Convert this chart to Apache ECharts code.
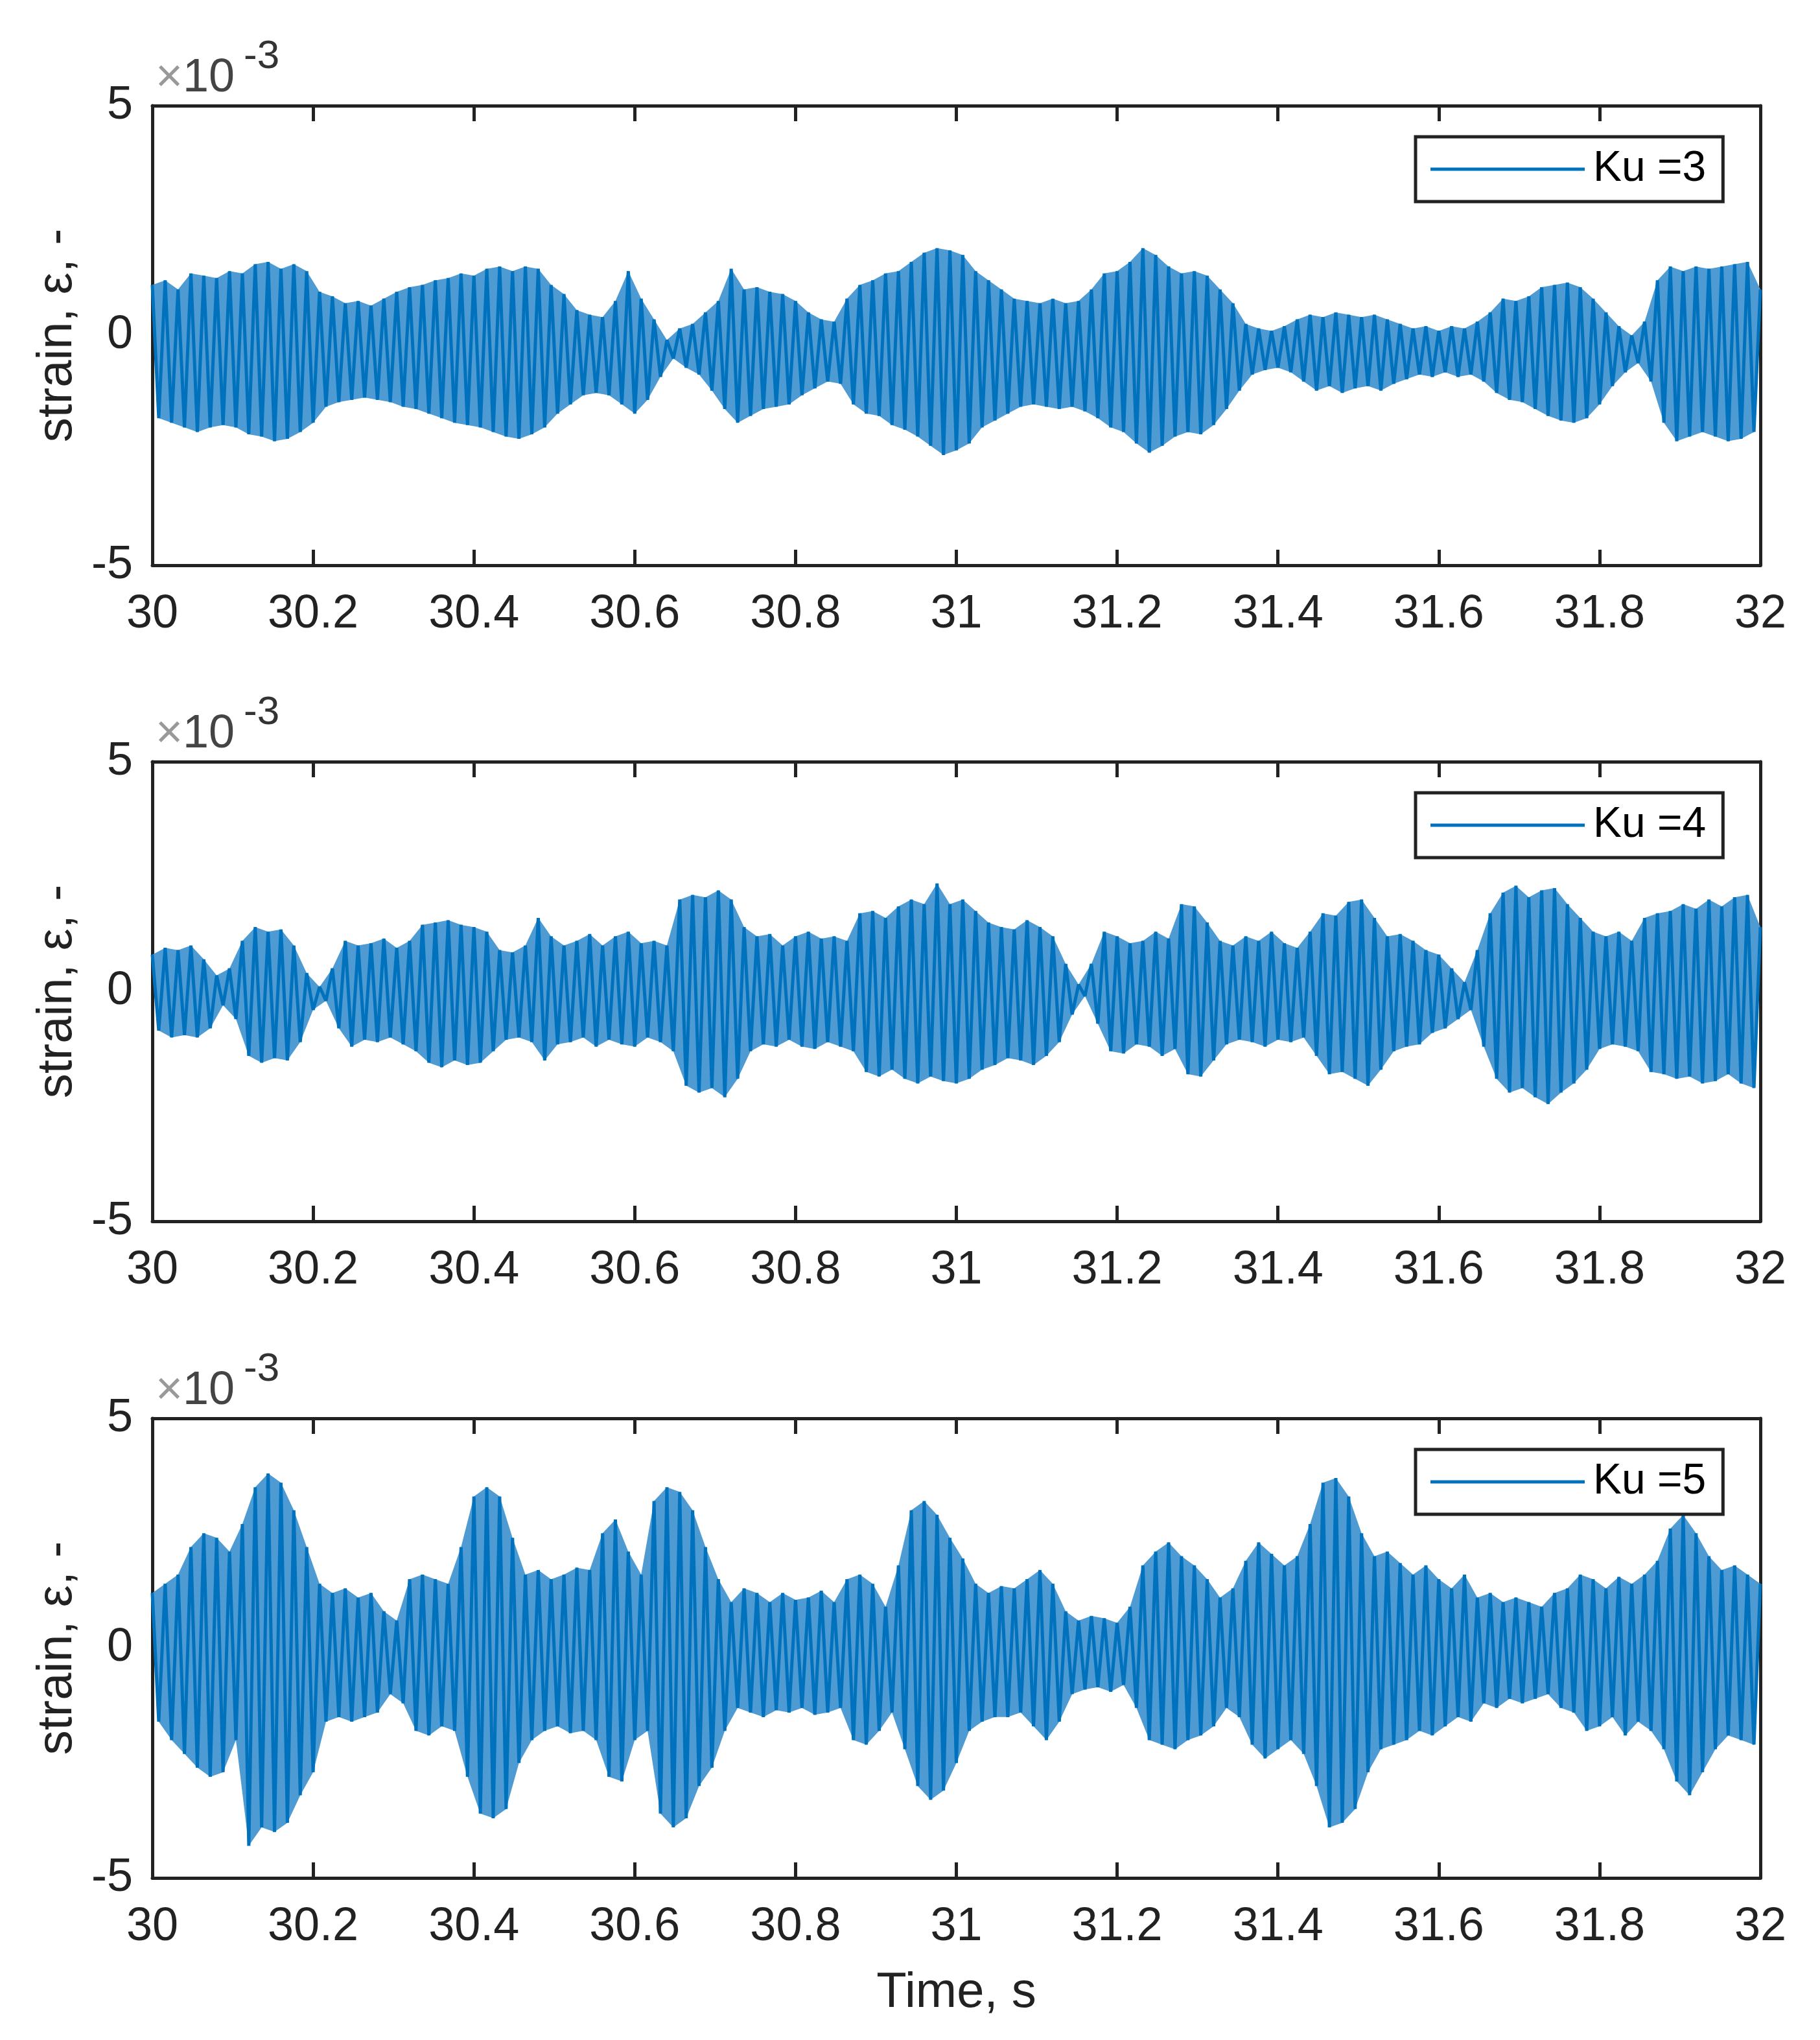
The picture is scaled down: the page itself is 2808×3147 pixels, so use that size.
<!DOCTYPE html>
<html>
<head>
<meta charset="utf-8">
<script src="https://cdn.jsdelivr.net/npm/echarts@6/dist/echarts.min.js"></script>
<style>
  html, body { margin: 0; padding: 0; background: #fff; }
  #chart { width: 2808px; height: 3147px; }
</style>
</head>
<body>
<div id="chart"></div>
<script>
// strain signal, units of 1e-3; one peak (hi) and one trough (lo) per cycle
const timeStart = 30;
const cycle = 0.016;
const xTicks = [30, 30.2, 30.4, 30.6, 30.8, 31, 31.2, 31.4, 31.6, 31.8, 32];
const yTicks = [-5, 0, 5];
const seriesNames = ["Ku =3", "Ku =4", "Ku =5"];

const ku3Hi = [1.1, 1.2, 1.0, 1.35, 1.3, 1.25, 1.4, 1.35, 1.55, 1.6, 1.45, 1.55, 1.4,
  0.95, 0.85, 0.7, 0.75, 0.65, 0.8, 0.95, 1.05, 1.1, 1.2, 1.25, 1.35, 1.3,
  1.45, 1.5, 1.4, 1.5, 1.45, 1.1, 0.9, 0.55, 0.45, 0.4, 0.75, 1.4, 0.8,
  0.35, -0.1, 0.15, 0.25, 0.5, 0.75, 1.45, 1.0, 1.05, 0.95, 0.9, 0.75, 0.5,
  0.35, 0.3, 0.8, 1.1, 1.2, 1.35, 1.4, 1.6, 1.8, 1.9, 1.85, 1.75, 1.4,
  1.2, 1.0, 0.8, 0.75, 0.7, 0.8, 0.7, 0.75, 1.0, 1.35, 1.4, 1.6, 1.9,
  1.75, 1.5, 1.35, 1.4, 1.3, 1.0, 0.7, 0.25, 0.15, 0.1, 0.2, 0.35, 0.45,
  0.4, 0.5, 0.45, 0.4, 0.45, 0.35, 0.25, 0.15, 0.2, 0.1, 0.2, 0.15, 0.3,
  0.5, 0.8, 0.75, 0.85, 1.05, 1.1, 1.15, 1.05, 0.8, 0.5, 0.2, 0.0, 0.3,
  1.2, 1.5, 1.4, 1.5, 1.45, 1.5, 1.55, 1.6, 1.0];
const ku3Lo = [-1.8, -1.9, -2.0, -2.1, -2.0, -1.95, -2.0, -2.15, -2.2, -2.3, -2.25, -2.1, -1.9,
  -1.55, -1.45, -1.4, -1.35, -1.4, -1.45, -1.55, -1.6, -1.7, -1.8, -1.9, -1.95,
  -2.0, -2.1, -2.2, -2.25, -2.15, -2.0, -1.7, -1.5, -1.3, -1.25, -1.3, -1.5, -1.7,
  -1.4, -0.9, -0.5, -0.7, -0.85, -1.2, -1.6, -1.9, -1.75, -1.6, -1.55, -1.5, -1.3,
  -1.15, -1.0, -1.05, -1.5, -1.7, -1.75, -1.95, -2.05, -2.2, -2.4, -2.6, -2.5, -2.35,
  -2.0, -1.85, -1.7, -1.55, -1.5, -1.55, -1.6, -1.55, -1.65, -1.8, -2.0, -2.1, -2.35,
  -2.55, -2.4, -2.2, -2.1, -2.15, -1.95, -1.6, -1.2, -0.85, -0.75, -0.7, -0.8, -1.0,
  -1.2, -1.1, -1.25, -1.15, -1.1, -1.2, -1.05, -0.95, -0.85, -0.9, -0.8, -0.9, -0.85,
  -1.0, -1.25, -1.4, -1.45, -1.6, -1.75, -1.85, -1.9, -1.8, -1.5, -1.1, -0.8, -0.6,
  -1.0, -1.9, -2.3, -2.2, -2.1, -2.2, -2.3, -2.25, -2.1];

const ku4Hi = [0.8, 0.95, 0.9, 1.0, 0.7, 0.35, 0.5, 1.1, 1.4, 1.3, 1.35, 1.0, 0.4,
  0.1, 0.5, 1.1, 1.0, 1.05, 1.15, 0.95, 1.1, 1.45, 1.5, 1.55, 1.45, 1.4,
  1.3, 0.9, 0.85, 1.0, 1.6, 1.2, 1.0, 1.1, 1.25, 1.0, 1.2, 1.3, 1.05,
  1.1, 1.0, 2.0, 2.1, 2.05, 2.2, 2.0, 1.4, 1.2, 1.25, 1.0, 1.2, 1.3,
  1.15, 1.2, 1.1, 1.7, 1.75, 1.6, 1.85, 2.0, 1.9, 2.35, 1.9, 2.0, 1.75,
  1.5, 1.4, 1.35, 1.55, 1.4, 1.2, 0.6, 0.15, 0.6, 1.3, 1.2, 1.05, 1.1,
  1.3, 1.15, 1.9, 1.85, 1.5, 1.1, 1.0, 1.2, 1.1, 1.3, 1.05, 0.95, 1.3,
  1.7, 1.65, 1.95, 2.0, 1.6, 1.2, 1.25, 1.1, 0.9, 0.8, 0.5, 0.2, 0.9,
  1.7, 2.15, 2.3, 2.05, 2.2, 2.25, 1.9, 1.6, 1.3, 1.2, 1.3, 1.1, 1.6,
  1.7, 1.75, 1.9, 1.8, 2.0, 1.85, 2.05, 2.1, 1.4];
const ku4Lo = [-0.85, -1.0, -0.95, -1.0, -0.8, -0.3, -0.6, -1.4, -1.55, -1.45, -1.5, -1.1, -0.4,
  -0.2, -0.8, -1.2, -1.05, -1.1, -1.0, -1.15, -1.3, -1.55, -1.65, -1.5, -1.6,
  -1.55, -1.3, -1.05, -1.0, -1.1, -1.5, -1.15, -1.1, -1.0, -1.2, -1.05, -1.15, -1.2,
  -1.0, -1.1, -1.3, -2.05, -2.2, -2.1, -2.3, -1.9, -1.3, -1.15, -1.2, -1.05, -1.2,
  -1.25, -1.1, -1.2, -1.3, -1.75, -1.85, -1.7, -1.9, -2.0, -1.85, -1.95, -2.0, -1.9,
  -1.7, -1.6, -1.45, -1.5, -1.6, -1.4, -1.1, -0.5, -0.1, -0.7, -1.3, -1.35, -1.15,
  -1.2, -1.4, -1.25, -1.8, -1.85, -1.5, -1.15, -1.05, -1.1, -1.2, -1.05, -1.1, -1.0,
  -1.4, -1.8, -1.75, -1.9, -2.05, -1.7, -1.3, -1.2, -1.15, -0.9, -0.8, -0.6, -0.4,
  -1.2, -1.9, -2.2, -2.1, -2.3, -2.45, -2.2, -2.0, -1.7, -1.25, -1.15, -1.2, -1.3,
  -1.75, -1.8, -1.9, -1.85, -2.0, -1.95, -1.8, -2.0, -2.1];

const ku5Hi = [1.2, 1.4, 1.6, 2.2, 2.5, 2.4, 2.1, 2.7, 3.5, 3.8, 3.6, 3.0, 2.2,
  1.4, 1.2, 1.3, 1.1, 1.2, 0.8, 0.6, 1.5, 1.6, 1.5, 1.4, 2.2, 3.3,
  3.5, 3.3, 2.4, 1.6, 1.7, 1.5, 1.6, 1.75, 1.7, 2.5, 2.8, 2.1, 1.6,
  3.2, 3.5, 3.4, 3.0, 2.2, 1.5, 1.0, 1.3, 1.2, 1.0, 1.2, 1.05, 1.1,
  1.25, 1.0, 1.5, 1.6, 1.4, 0.9, 1.8, 3.0, 3.2, 2.9, 2.4, 1.95, 1.4,
  1.2, 1.35, 1.3, 1.5, 1.7, 1.4, 0.8, 0.6, 0.7, 0.65, 0.55, 0.9, 1.8,
  2.1, 2.3, 2.0, 1.8, 1.5, 1.1, 1.3, 1.9, 2.3, 2.05, 1.8, 2.0, 2.7,
  3.6, 3.7, 3.3, 2.5, 2.0, 2.1, 1.85, 1.6, 1.8, 1.5, 1.3, 1.6, 1.1,
  1.2, 1.0, 1.1, 1.0, 0.9, 1.2, 1.3, 1.6, 1.5, 1.3, 1.55, 1.4, 1.6,
  1.9, 2.6, 2.9, 2.5, 2.0, 1.7, 1.8, 1.6, 1.4];
const ku5Lo = [-1.6, -2.0, -2.3, -2.6, -2.8, -2.7, -2.0, -4.3, -3.9, -4.0, -3.8, -3.2, -2.7,
  -1.6, -1.5, -1.6, -1.5, -1.4, -1.0, -1.2, -1.8, -1.9, -1.7, -1.8, -2.8,
  -3.6, -3.7, -3.5, -2.5, -2.0, -1.8, -1.7, -1.85, -1.8, -2.0, -2.8, -2.9, -2.0,
  -1.8, -3.6, -3.9, -3.7, -3.0, -2.6, -1.8, -1.3, -1.4, -1.5, -1.35, -1.4, -1.3,
  -1.45, -1.4, -1.3, -2.0, -2.1, -1.8, -1.4, -2.2, -3.0, -3.3, -3.1, -2.5, -1.8,
  -1.6, -1.5, -1.5, -1.4, -1.7, -2.0, -1.6, -1.0, -0.9, -0.85, -0.95, -0.8, -1.3,
  -2.0, -2.1, -2.2, -2.0, -1.9, -1.7, -1.3, -1.5, -2.1, -2.4, -2.2, -2.0, -2.3,
  -3.0, -3.9, -3.8, -3.5, -2.7, -2.2, -2.1, -2.0, -1.8, -1.9, -1.7, -1.5, -1.6,
  -1.2, -1.3, -1.1, -1.2, -1.1, -1.0, -1.3, -1.4, -1.8, -1.7, -1.5, -1.9, -1.6,
  -1.8, -2.2, -2.9, -3.2, -2.7, -2.2, -1.9, -2.0, -2.1];

const panels = [
  { name: seriesNames[0], hi: ku3Hi, lo: ku3Lo },
  { name: seriesNames[1], hi: ku4Hi, lo: ku4Lo },
  { name: seriesNames[2], hi: ku5Hi, lo: ku5Lo },
];

// layout in px
const plotLeft = 235;
const plotWidth = 2481;
const plotHeight = 709;
const plotTops = [163, 1175, 2188];
const lineColor = "#0072BD";
const bandColor = "#4e9bd4";
const axisColor = "#222222";
const font = "'Liberation Sans', Arial, Helvetica, sans-serif";

function hiPoints(hi) {
  return hi.map((v, i) => [+(timeStart + i * cycle).toFixed(4), v]);
}
function loPoints(lo) {
  return lo.map((v, i) => [+(timeStart + i * cycle + cycle / 2).toFixed(4), v]);
}
function toPoints(hi, lo) {
  const h = hiPoints(hi);
  const l = loPoints(lo);
  const pts = [];
  for (let i = 0; i < h.length; i++) {
    pts.push(h[i]);
    if (i < l.length) pts.push(l[i]);
  }
  return pts;
}

const chart = echarts.init(document.getElementById("chart"), null, { renderer: "canvas" });

const grid = [];
const xAxis = [];
const yAxis = [];
const series = [];
const legend = [];
const graphic = [];

const axisLine = { show: true, onZero: false, lineStyle: { color: axisColor, width: 5 } };
const axisTick = { show: true, inside: true, length: 24, lineStyle: { color: axisColor, width: 5 } };

panels.forEach((p, k) => {
  const top = plotTops[k];
  grid.push({ left: plotLeft, top: top, width: plotWidth, height: plotHeight });

  xAxis.push({
    gridIndex: k, type: "value", position: "bottom",
    min: xTicks[0], max: xTicks[xTicks.length - 1], interval: 0.2,
    axisLine, axisTick, splitLine: { show: false },
    axisLabel: {
      color: axisColor, fontSize: 72, fontFamily: font, margin: 40,
      formatter: (v) => String(+v.toFixed(1)),
    },
    name: k === 2 ? "Time, s" : "",
    nameLocation: "middle", nameGap: 140,
    nameTextStyle: { color: axisColor, fontSize: 76, fontFamily: font },
  });
  yAxis.push({
    gridIndex: k, type: "value", position: "left",
    min: yTicks[0], max: yTicks[yTicks.length - 1], interval: 5,
    axisLine, axisTick, splitLine: { show: false },
    axisLabel: { color: axisColor, fontSize: 72, fontFamily: font, margin: 30 },
    name: "strain, \u03b5, -",
    nameLocation: "middle", nameGap: 108,
    nameTextStyle: { color: axisColor, fontSize: 76, fontFamily: font },
  });

  // light envelope under the trace: polygon through the peaks, back through the troughs
  const upper = hiPoints(p.hi);
  const lower = loPoints(p.lo).reverse();
  series.push({
    type: "custom", xAxisIndex: k, yAxisIndex: k,
    data: [[timeStart, 0]], silent: true, z: 1, animation: false,
    renderItem: (params, api) => ({
      type: "polygon",
      shape: { points: upper.concat(lower).map((pt) => api.coord(pt)) },
      style: { fill: bandColor },
    }),
  });

  series.push({
    name: p.name, type: "line", xAxisIndex: k, yAxisIndex: k,
    data: toPoints(p.hi, p.lo),
    symbol: "none", showSymbol: false,
    lineStyle: { color: lineColor, width: 5, join: "bevel" },
    itemStyle: { color: lineColor },
    animation: false, z: 2,
  });

  legend.push({
    data: [p.name], left: 2184, top: top + 48,
    orient: "horizontal", icon: "rect",
    itemWidth: 238, itemHeight: 5,
    padding: [17, 26, 17, 23],
    borderColor: axisColor, borderWidth: 5, backgroundColor: "#fff",
    textStyle: { color: "#000", fontSize: 66, fontFamily: font, padding: [0, 0, 0, 8] },
    selectedMode: false,
  });

  // exponent label above each axes
  graphic.push({
    type: "text", left: 240, top: top - 78,
    style: {
      text: "{x|\u00d7}{n|10}",
      rich: {
        x: { font: "72px " + font, fill: "#999" },
        n: { font: "72px " + font, fill: "#444" },
      },
    },
  });
  graphic.push({
    type: "text", left: 376, top: top - 106,
    style: { text: "-3", font: "62px " + font, fill: "#333" },
  });
});

// mirrored top and right axes (box with inward ticks)
panels.forEach((p, k) => {
  xAxis.push({
    gridIndex: k, type: "value", position: "top",
    min: xTicks[0], max: xTicks[xTicks.length - 1], interval: 0.2,
    axisLine, axisTick, axisLabel: { show: false }, splitLine: { show: false },
  });
  yAxis.push({
    gridIndex: k, type: "value", position: "right",
    min: yTicks[0], max: yTicks[yTicks.length - 1], interval: 5,
    axisLine, axisTick, axisLabel: { show: false }, splitLine: { show: false },
  });
});

chart.setOption({
  backgroundColor: "#ffffff",
  animation: false,
  grid, xAxis, yAxis, series, legend, graphic,
});
</script>
</body>
</html>
